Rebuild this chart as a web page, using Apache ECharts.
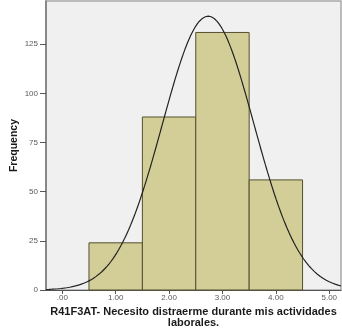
<!DOCTYPE html>
<html>
<head>
<meta charset="utf-8">
<script src="https://cdn.jsdelivr.net/npm/echarts@6/dist/echarts.min.js"></script>
<style>
  html, body { margin: 0; padding: 0; background: #ffffff; }
  #chart { width: 342px; height: 336px; }
</style>
</head>
<body>
<div id="chart"></div>
<script>
// Histogram bins: centre value and frequency
const binCenters = [1, 2, 3, 4];
const binWidth = 1;
const frequencies = [24, 88, 131, 56];
const xTicks = [0, 1, 2, 3, 4, 5];
const yTicks = [0, 25, 50, 75, 100, 125];
const xTitle = 'R41F3AT- Necesito distraerme durante mis actividades\nlaborales.';
const yTitle = 'Frequency';

const xMin = -0.305, xMax = 5.22;
const yMin = 0, yMax = 147;

// Normal curve fitted to the binned data (mean and SD of the frequencies)
const n = frequencies.reduce((a, b) => a + b, 0);
const mean = binCenters.reduce((s, c, i) => s + c * frequencies[i], 0) / n;
const variance = binCenters.reduce((s, c, i) => s + frequencies[i] * (c - mean) ** 2, 0) / (n - 1);
const sd = Math.sqrt(variance);
const normalCurve = [];
for (let k = 0; k <= 300; k++) {
  const x = xMin + (xMax - xMin) * k / 300;
  const y = n * binWidth / (sd * Math.sqrt(2 * Math.PI)) * Math.exp(-0.5 * ((x - mean) / sd) ** 2);
  normalCurve.push([x, y]);
}

const barData = binCenters.map((c, i) => [c - binWidth / 2, c + binWidth / 2, frequencies[i]]);

const tickLabel = v => {
  const s = Number(v).toFixed(2);
  return s.startsWith('0') ? s.slice(1) : s;
};

const chart = echarts.init(document.getElementById('chart'));
chart.setOption({
  animation: false,
  grid: {
    left: 46, right: 1, top: 1, bottom: 46,
    containLabel: false,
    outerBoundsMode: 'none',
    show: true,
    backgroundColor: '#f0f0f0',
    borderColor: '#a8a8a8',
    borderWidth: 1.5
  },
  xAxis: {
    type: 'value',
    min: xMin, max: xMax,
    name: xTitle,
    nameLocation: 'middle',
    nameGap: 16,
    nameMoveOverlap: false,
    nameTextStyle: {
      fontFamily: 'Liberation Sans, Arial, sans-serif',
      fontWeight: 'bold', fontSize: 11, color: '#1a1a1a',
      lineHeight: 11, verticalAlign: 'top'
    },
    splitLine: { show: false },
    axisLine: { show: true, lineStyle: { color: '#555555', width: 1 } },
    axisTick: { show: true, length: 4, customValues: xTicks, lineStyle: { color: '#555555' } },
    axisLabel: {
      customValues: xTicks, formatter: tickLabel,
      fontFamily: 'Liberation Sans, Arial, sans-serif',
      fontSize: 8, color: '#5a5a5a', margin: 4
    }
  },
  yAxis: {
    type: 'value',
    min: yMin, max: yMax,
    name: yTitle,
    nameLocation: 'middle',
    nameGap: 26,
    nameMoveOverlap: false,
    nameTextStyle: {
      fontFamily: 'Liberation Sans, Arial, sans-serif',
      fontWeight: 'bold', fontSize: 10.5, color: '#1a1a1a'
    },
    splitLine: { show: false },
    axisLine: { show: true, onZero: false, lineStyle: { color: '#777777', width: 1.5 } },
    axisTick: { show: true, length: 6, customValues: yTicks, lineStyle: { color: '#555555' } },
    axisLabel: {
      customValues: yTicks,
      fontFamily: 'Liberation Sans, Arial, sans-serif',
      fontSize: 8, color: '#5a5a5a', margin: 8
    }
  },
  series: [
    {
      type: 'custom',
      data: barData,
      encode: { x: [0, 1], y: 2 },
      renderItem: (params, api) => {
        const p0 = api.coord([api.value(0), 0]);
        const p1 = api.coord([api.value(1), api.value(2)]);
        return {
          type: 'rect',
          shape: { x: p0[0], y: p1[1], width: p1[0] - p0[0], height: p0[1] - p1[1] },
          style: { fill: '#d3cd97', stroke: '#54502e', lineWidth: 1 }
        };
      },
      z: 2
    },
    {
      type: 'line',
      data: normalCurve,
      showSymbol: false,
      smooth: false,
      lineStyle: { color: '#222222', width: 1.2 },
      z: 3
    }
  ]
});
</script>
</body>
</html>
